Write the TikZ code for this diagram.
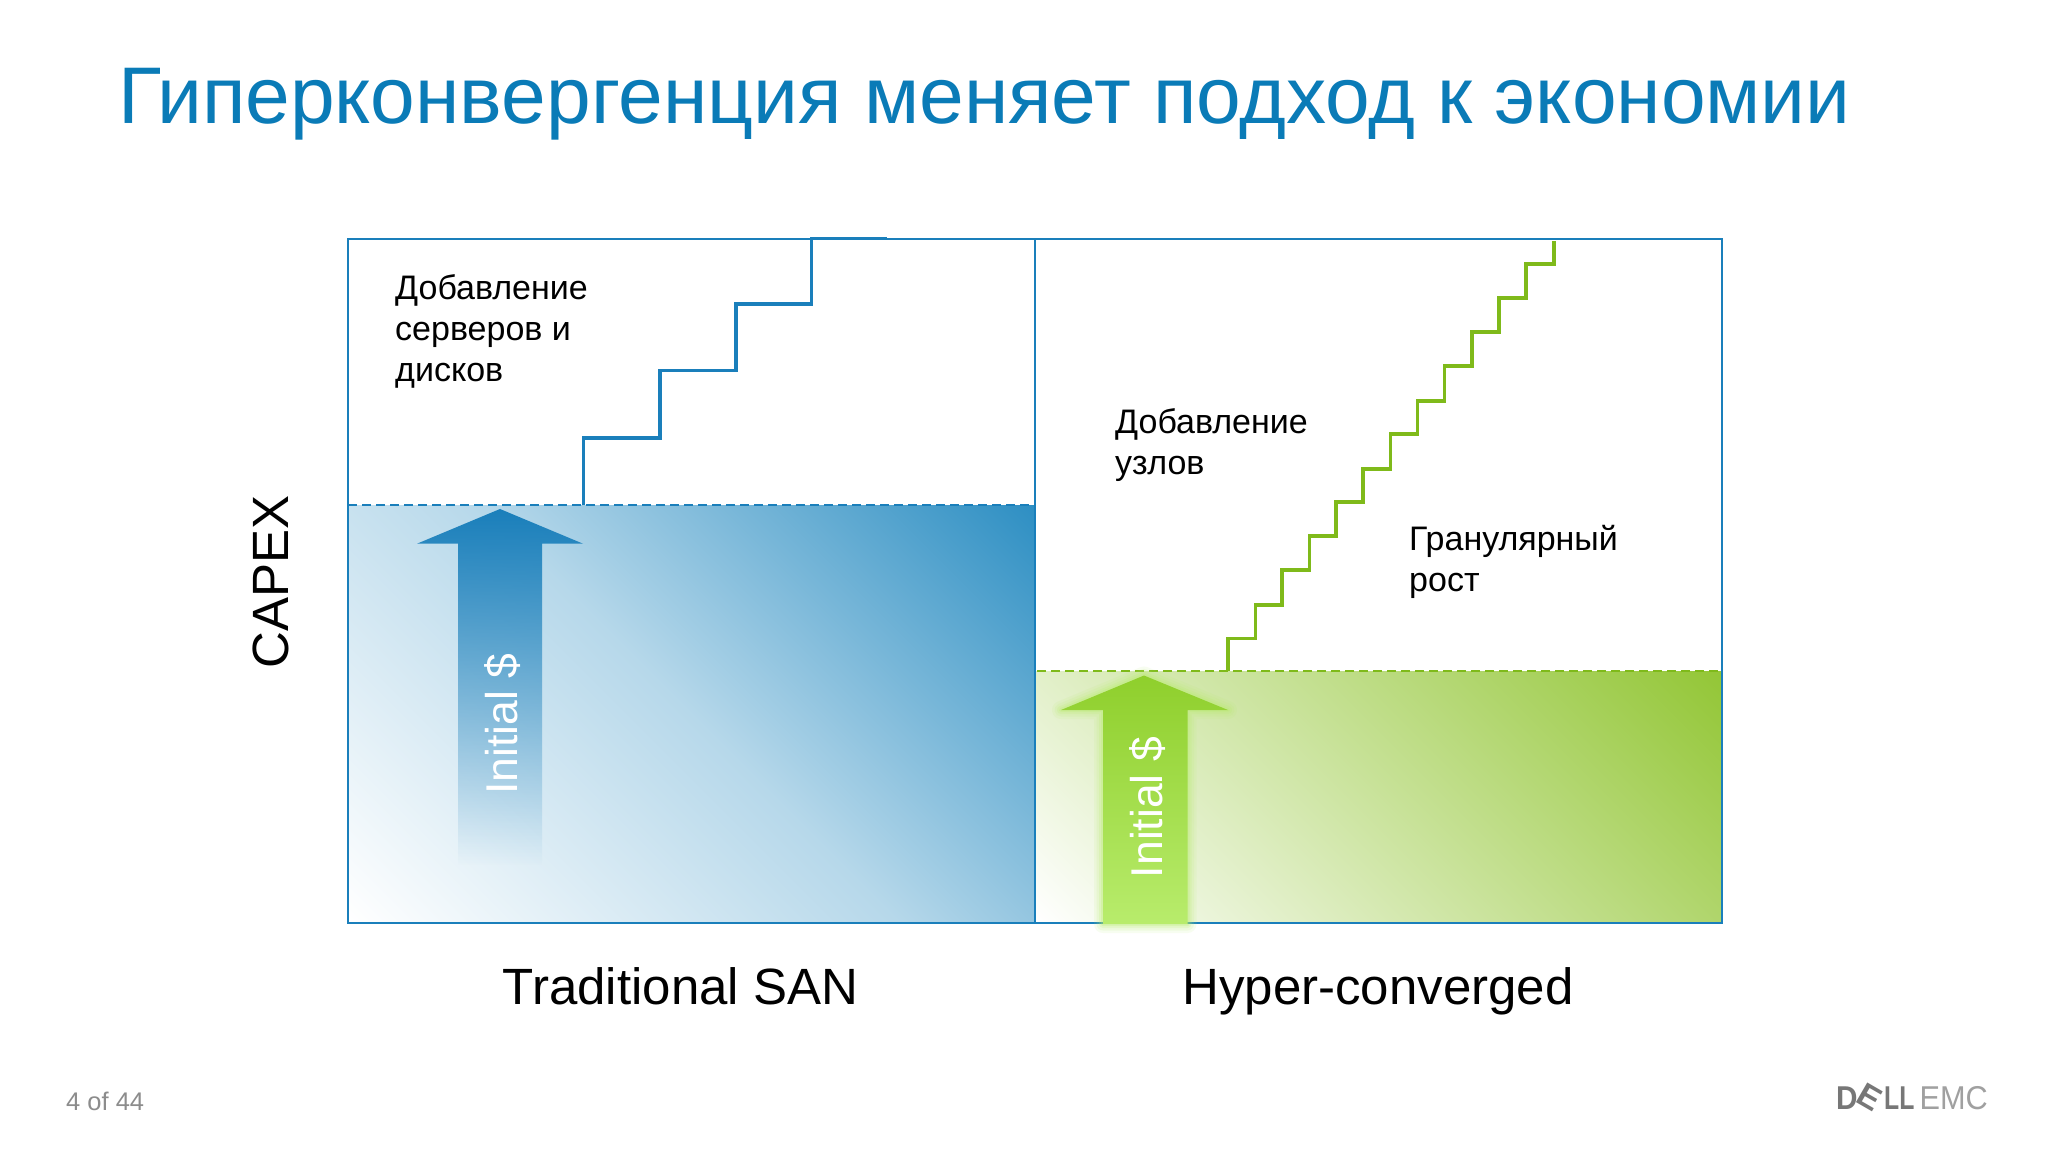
\documentclass[tikz,border=0pt]{standalone}
\usepackage{fontspec}
\setmainfont{Liberation Sans}
\usetikzlibrary{fadings}
\definecolor{dblue}{HTML}{1A7FBB}
\definecolor{titleblue}{HTML}{0A7BB7}
\definecolor{gradblue}{HTML}{2E8FC3}
\definecolor{dgreen}{HTML}{7FBA1A}
\definecolor{gradgreen}{HTML}{93C636}
\definecolor{arrowgreen}{HTML}{8FCF2C}
\definecolor{arrowlight}{HTML}{B8EC6C}
\definecolor{logodark}{HTML}{777777}
\definecolor{logolight}{HTML}{A0A0A0}
\definecolor{pagegrey}{HTML}{8C8C8C}
\pgfdeclareverticalshading{bluegrad}{100bp}{color(0bp)=(white); color(25bp)=(white); color(50bp)=(gradblue!35!white); color(75bp)=(gradblue); color(100bp)=(gradblue)}
\pgfdeclareverticalshading{greengrad}{100bp}{color(0bp)=(white); color(32.3bp)=(white); color(50bp)=(gradgreen!50!white); color(67.7bp)=(gradgreen); color(100bp)=(gradgreen)}
\tikzfading[name=fadearrow, top color=transparent!0, middle color=transparent!55, bottom color=transparent!100]
\tikzset{
  px/.style={x=1pt,y=-1pt},
  frameline/.style={draw=dblue,line width=2pt},
  dashline/.style={line width=1.8pt,dash pattern=on 9pt off 5pt},
  stairs/.style={line width=3.4pt,line join=miter},
  label/.style={anchor=north west,inner sep=0pt,align=left,font=\fontsize{34}{41}\selectfont,text=black},
  axislabel/.style={anchor=base,inner sep=0pt,font=\fontsize{51}{51}\selectfont,text=black},
  arrowtext/.style={rotate=90,anchor=base,inner sep=0pt,text=white,font=\fontsize{44.5}{44.5}\selectfont},
  logo/.style={anchor=base west,inner sep=0pt,text=logodark,font=\fontsize{33}{33}\selectfont\bfseries}
}
\begin{document}
\begin{tikzpicture}[px]
\useasboundingbox (0,0) rectangle (2048,1152);
\fill[white] (0,0) rectangle (2048,1152);
% gradients: a square clipped to each panel, so the ramp runs corner to corner
\begin{scope}
\clip (348,505) rectangle (1035,922);
\shade[shading=bluegrad,shading angle=-45] (300.5,323) rectangle (1082.5,1105);
\end{scope}
\begin{scope}
\clip (1035,671) rectangle (1722,922);
\shade[shading=greengrad,shading angle=-45] (909.5,327.5) rectangle (1847.5,1265.5);
\end{scope}
% frame
\draw[frameline] (348,238.5) rectangle (1722,922.5);
\draw[frameline] (1035,238.5) -- (1035,922.5);
% dashes
\draw[dashline,draw=dblue] (348,505) -- (1035,505);
\draw[dashline,draw=dgreen] (1037,671) -- (1722,671);
% stairs
\draw[stairs,draw=dblue] (583.5,505) |- (660,438) |- (736,370.5) |- (811.5,304) |- (887,238.5);
\draw[stairs,draw=dgreen] (1228,671) |- (1255.5,638.5) |- (1282,604.8) |- (1309.7,570) |- (1336,536) |- (1363,502) |- (1390.5,469) |- (1417.6,434) |- (1444.7,401) |- (1472,366) |- (1499,332) |- (1526,298) |- (1554,264) -- (1554,241);
% arrows
\fill[dblue,path fading=fadearrow,fit fading=true] (500,509) -- (583,543.7) -- (542,543.7) -- (542,865) -- (458,865) -- (458,543.7) -- (417,543.7) -- cycle;
\foreach \w/\o in {18/0.10,13/0.13,8/0.18,4/0.25}{
  \draw[arrowlight,line width=\w pt,opacity=\o,line join=round] (1144,675.5) -- (1228,710) -- (1187.5,710) -- (1187.5,924) -- (1103,924) -- (1103,710) -- (1061,710) -- cycle;
}
\shade[top color=arrowgreen,bottom color=arrowlight] (1144,675.5) -- (1228,710) -- (1187.5,710) -- (1187.5,924) -- (1103,924) -- (1103,710) -- (1061,710) -- cycle;
% texts
\node[anchor=base west,inner sep=0pt,text=titleblue,font=\fontsize{80.3}{80}\selectfont] (title) at (118,123) {Гиперконвергенция меняет подход к экономии};
\node[label] (lblservers) at (395,274.5) {Добавление\\серверов и\\дисков};
\node[label] (lblnodes) at (1115,408.5) {Добавление\\узлов};
\node[label] (lblgrowth) at (1409,525.5) {Гранулярный\\рост};
\node[axislabel,rotate=90] (capex) at (288,582) {CAPEX};
\node[axislabel] (san) at (680.5,1004) {Traditional SAN};
\node[axislabel] (hci) at (1378,1004) {Hyper-converged};
\node[arrowtext] (initblue) at (517,724) {Initial \$};
\node[arrowtext] (initgreen) at (1162,807.5) {Initial \$};
\node[anchor=base west,inner sep=0pt,text=pagegrey,font=\fontsize{25.5}{26}\selectfont] (page) at (66,1110) {4 of 44};
% logo
\node[logo,xscale=.9] (logod) at (1836,1109) {D};
\node[logo,rotate=-30,anchor=center] (logoe) at (1870,1097) {E};
\node[logo,xscale=.75] (logol) at (1884,1109) {LL};
\node[anchor=base west,inner sep=0pt,text=logolight,xscale=.93,font=\fontsize{33}{33}\selectfont] (logoemc) at (1919.5,1109) {EMC};
\end{tikzpicture}
\end{document}
